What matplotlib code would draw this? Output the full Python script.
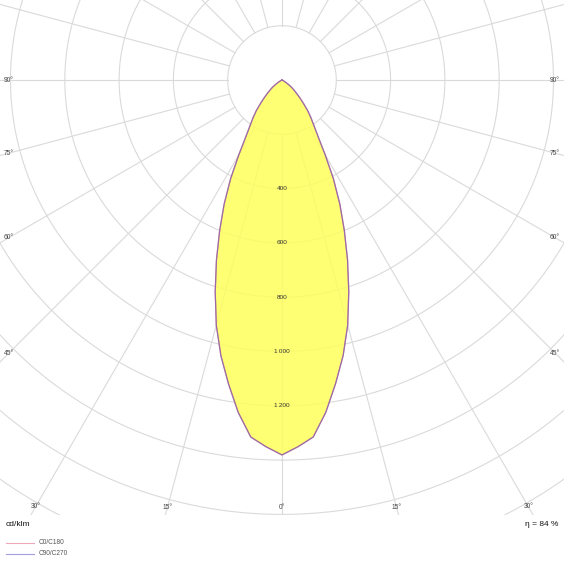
import numpy as np
import matplotlib
matplotlib.use("Agg")
import matplotlib.pyplot as plt
from matplotlib.patches import Rectangle
from matplotlib.lines import Line2D

# ---- data (cd/klm) ----
gamma_deg = [0, 2.5, 5, 7.5, 10, 12.5, 15, 17.5, 20, 22.5, 25, 27.5, 30, 32.5, 35,
             37.5, 40, 42.5, 45, 47.5, 50, 52.5, 55, 57.5, 60, 65, 70, 75, 80, 85, 90]
c0_c180 = [1381, 1352, 1320, 1235, 1136, 1040, 935, 818, 706, 600, 504, 410, 318, 248, 205,
           175, 147, 117, 93, 73, 57, 45, 30, 18, 10, 3, 0, 0, 0, 0, 0]
c90_c270 = [1381, 1352, 1320, 1235, 1136, 1040, 935, 818, 706, 600, 504, 410, 318, 248, 205,
            175, 147, 117, 93, 73, 57, 45, 30, 18, 10, 3, 0, 0, 0, 0, 0]
radial_ticks = [400, 600, 800, 1000, 1200]
radial_labels = ["400", "600", "800", "1\u2009000", "1\u2009200"]
side_angles = [90, 75, 60, 45]
bottom_angles = [30, 15, 0]
efficiency = "η = 84 %"
unit = "cd/klm"
series_names = ["C0/C180", "C90/C270"]

# ---- layout ----
W = H = 564
fig = plt.figure(figsize=(W / 100, H / 100), dpi=100)
fig.patch.set_facecolor("white")
cx, cy = 282, 80            # pixel centre (from top)
ppu = 54.3 / 200.0          # pixels per cd/klm
rmax = 2000
R = rmax * ppu
ax = fig.add_axes([(cx - R) / W, (H - cy - R) / H, 2 * R / W, 2 * R / H],
                  projection="polar")
ax.set_theta_zero_location("S")
ax.set_ylim(0, rmax)
ax.set_axis_off()

frame_bottom = 515
clip = Rectangle((0, (H - frame_bottom) / H), 1, frame_bottom / H,
                 transform=fig.transFigure)

gridc = "#dadada"
th = np.linspace(0, 2 * np.pi, 1441)
for r in range(200, rmax + 1, 200):
    ax.plot(th, np.full_like(th, r), color=gridc, lw=0.8, zorder=1, clip_path=clip)
for a in range(0, 360, 15):
    ax.plot([np.deg2rad(a)] * 2, [200, rmax], color=gridc, lw=0.8, zorder=1,
            clip_path=clip)

g = np.array(gamma_deg, dtype=float)
theta = np.deg2rad(np.concatenate([-g[::-1], g[1:]]))
r0 = np.concatenate([np.array(c0_c180)[::-1], np.array(c0_c180)[1:]])
r90 = np.concatenate([np.array(c90_c270)[::-1], np.array(c90_c270)[1:]])

ax.fill(theta, r0, facecolor="#ffff5c", alpha=0.85, edgecolor="none", zorder=2)
ax.plot(theta, r0, color="#d06a8a", lw=0.9, zorder=3)
ax.plot(theta, r90, color="#6a6ac0", lw=0.9, alpha=0.5, zorder=4)

fam = ["Liberation Sans", "DejaVu Sans"]
for v, lab in zip(radial_ticks, radial_labels):
    ax.text(0, v, lab, ha="center", va="center", fontsize=4.6, color="#333333",
            family=fam, zorder=5)

# angle labels along the frame
for a in side_angles:
    rr = (cx - 9) / np.sin(np.deg2rad(a)) / ppu
    for s in (-1, 1):
        ax.text(s * np.deg2rad(a), rr, f"{a}°", ha="center", va="center",
                fontsize=4.8, color="#444444", family=fam, zorder=5)
for a in bottom_angles:
    rr = (507 - cy) / np.cos(np.deg2rad(a)) / ppu
    for s in ((-1, 1) if a else (1,)):
        ax.text(s * np.deg2rad(a), rr, f"{a}°", ha="center", va="center",
                fontsize=4.8, color="#444444", family=fam, zorder=5)

# bottom texts
fig.text(6 / W, 1 - 525 / H, unit, ha="left", va="center", fontsize=6,
         color="#111111", family=fam)
fig.text(558 / W, 1 - 525 / H, efficiency, ha="right", va="center", fontsize=6,
         color="#111111", family=fam)
leg_cols = ["#f0a8b8", "#a0a0dc"]
for i, (name, col) in enumerate(zip(series_names, leg_cols)):
    y = 1 - (543 + 10.5 * i) / H
    fig.add_artist(Line2D([6 / W, 34 / W], [y, y], transform=fig.transFigure,
                          color=col, lw=0.8))
    fig.text(39 / W, y, name, ha="left", va="center", fontsize=4.7,
             color="#555555", family=fam)

fig.savefig("out.png", dpi=100, facecolor="white")
